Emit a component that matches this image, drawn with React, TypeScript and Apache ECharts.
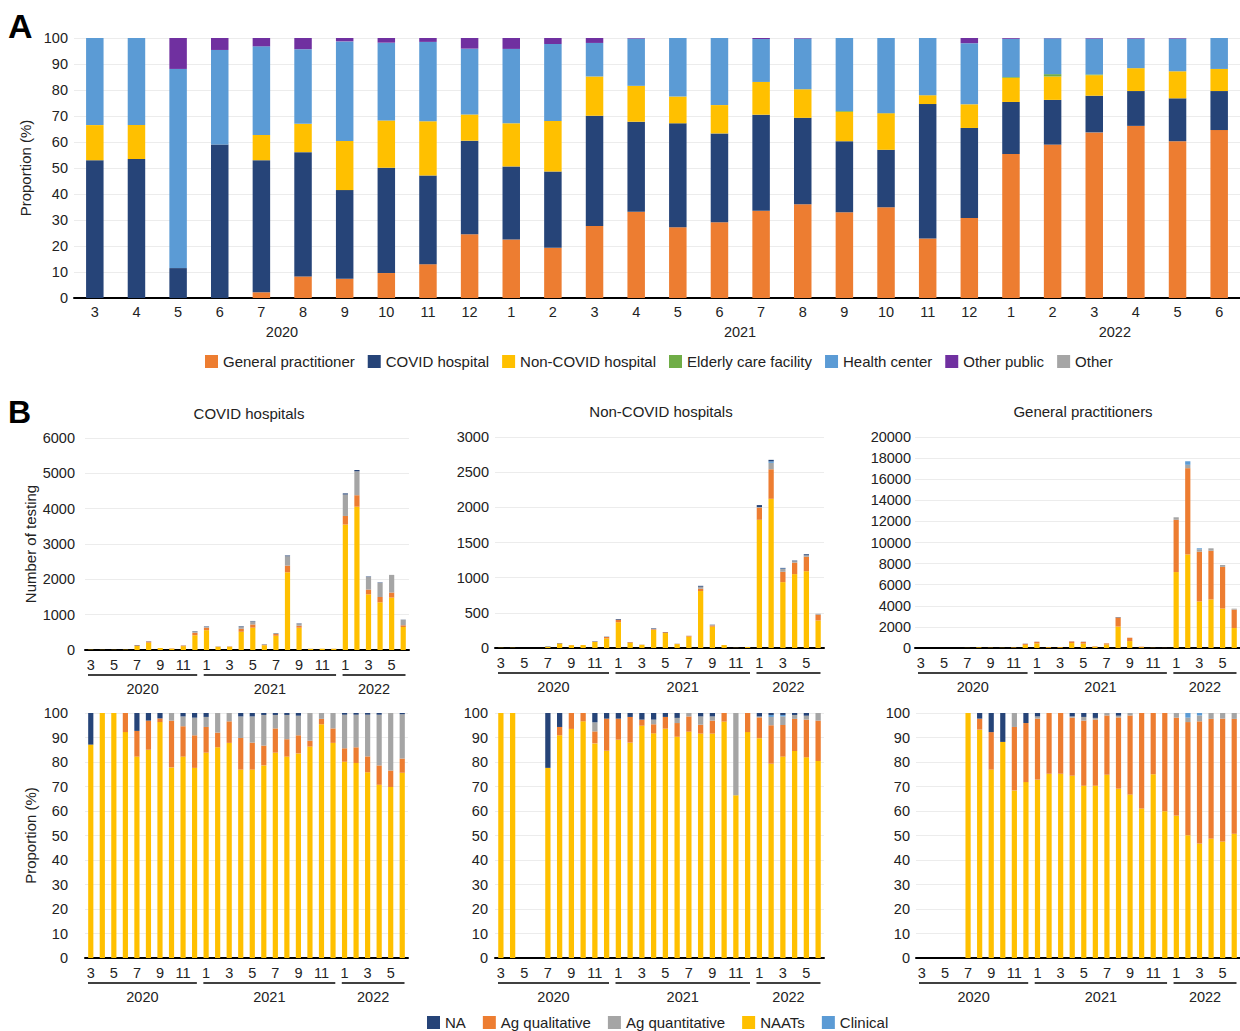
import React, { useEffect, useRef } from 'react';
import * as echarts from 'echarts';

// ---------- categories ----------
const months = ['3','4','5','6','7','8','9','10','11','12','1','2','3','4','5','6','7','8','9','10','11','12','1','2','3','4','5','6'];
const yearLabels = ['2020', '2021', '2022'];
const yearStart = [0, 10, 22];
const yearEnd = [9, 21, 27];

// ---------- Panel A: proportion of testing by facility (%) ----------
const gpA = [0,0,0,0,2.2,8.3,7.4,9.6,13,24.5,22.5,19.3,27.7,33.2,27.2,29.1,33.6,36.1,33,34.9,22.9,30.8,55.4,59,63.7,66.2,60.3,64.6];
const covidA = [53,53.5,11.5,59,50.8,47.8,34.1,40.5,34.1,36,28.1,29.4,42.4,34.6,40,34.2,36.9,33.2,27.3,22.1,51.7,34.6,20,17.2,14.1,13.4,16.5,15];
const nonCovidA = [13.5,13,0,0,9.7,10.9,18.9,18.2,20.9,10.1,16.6,19.4,15.1,13.8,10.3,10.9,12.6,11,11.3,14.1,3.4,9.1,9.3,9,7.9,8.8,10.4,8.5];
const elderlyA = [0,0,0,0,0,0,0,0,0,0,0,0,0,0,0,0,0,0,0.3,0,0,0,0.3,0.9,0.3,0,0,0];
const healthA = [33.5,33.5,76.6,36.4,34.1,28.7,38.3,29.9,30.5,25.3,28.6,29.6,12.9,18.2,22.5,25.8,16.5,19.5,28.1,28.9,22,23.5,14.7,13.8,13.8,11.4,12.6,11.9];
const otherPublicA = [0,0,11.9,4.6,3.2,4.3,1.3,1.8,1.5,4.1,4.2,2.3,1.9,0.2,0,0,0.4,0.2,0,0,0,2,0.3,0.1,0.2,0.2,0.2,0];
const otherA = [0,0,0,0,0,0,0,0,0,0,0,0,0,0,0,0,0,0,0,0,0,0,0,0,0,0,0,0];

// ---------- Panel B: totals (number of testing) ----------
const totalCovidHosp = [10,5,5,10,140,245,57,47,132,540,670,104,104,670,822,170,482,2675,756,38,38,38,4432,5094,2079,1909,2126,860];
const totalNonCovidHosp = [3,3,0,0,24,71,43,43,99,160,411,85,47,279,227,61,175,884,331,43,3,15,2032,2675,1139,1243,1333,487];
const totalGP = [0,0,0,0,10,60,30,20,60,410,600,95,95,630,600,160,440,2940,980,126,20,10,12390,17700,9450,9450,7870,3730];

// ---------- Panel B: shares by test type (%) ----------
// COVID hospitals
const naatCH = [87.1,100,100,92.2,82.2,85,96.3,77.8,82.2,77.6,83.8,86,87.8,76.9,76.9,78.6,83.8,82.2,83.5,86.3,95.4,87.8,80.1,79.6,75.8,70.7,69.8,75.6];
const agQlCH = [0,0,0,7.8,10.5,11.9,1.5,19.1,12.4,13.3,10.5,6,8.8,12.9,11,8.1,9.9,7.1,7.4,2.4,2.2,5.9,5.5,6.4,6.5,7.9,6.7,5.8];
const agQnCH = [0,0,0,0,0,0,0,3.1,4,7.2,4.1,8,3.4,8.8,10.7,12.5,5.5,9.9,8,11.3,2.4,6.3,13.7,13.3,17,20.7,23.5,18.1];
const clinCH = [0,0,0,0,0,0,0,0,0,0,0,0,0,0,0,0,0,0,0,0,0,0,0,0,0,0,0,0];
const naCH = [12.9,0,0,0,7.3,3.1,2.2,0,1.4,1.9,1.6,0,0,1.4,1.4,0.8,0.8,0.8,1.1,0,0,0,0.7,0.7,0.7,0.7,0,0.5];
// Non-COVID hospitals
const naatNH = [100,100,0,0,77.6,90.9,93.5,96.6,87.6,84.6,89.1,87.9,94.8,91.7,93.6,90.3,92.4,91.6,91.6,96.5,66.4,92.2,89.7,79.3,82.2,84.5,81.9,80.4];
const agQlNH = [0,0,0,0,0,3.4,6.5,3.4,4.9,13.1,8.6,10.5,2.5,3.7,4.8,5.6,6.2,3.6,5.3,3.5,0,7.8,8.5,15.7,12.9,13.1,15.4,16.5];
const agQnNH = [0,0,0,0,0,0,0,0,3.7,0,0,0,0,1.9,0,2.1,1.4,3.4,1.7,0,33.6,0,0.4,3.4,3.5,1.6,1.6,3.1];
const clinNH = [0,0,0,0,0,0,0,0,0,0,0,0,0,0,0,0,0,0,0,0,0,0,0,0.8,0.6,0,0,0];
const naNH = [0,0,0,0,22.4,5.7,0,0,3.8,2.3,2.3,1.6,2.7,2.7,1.6,2,0,1.4,1.4,0,0,0,1.4,0.8,0.8,0.8,1.1,0];
// General practitioners
const naatGP = [0,0,0,0,100,93.2,76.9,88.2,68.4,71.8,72.8,75.2,75.2,74.4,70.3,70.3,74.8,69.1,66.7,61,75,59.9,58.1,50.1,46.7,48.7,47.5,50.7];
const agQlGP = [0,0,0,0,0,4.5,15.3,0,25.9,24.1,24.9,24.8,24.8,23.7,26.6,27,24.2,29.1,32.3,39,25,40.1,40,46.2,49.9,48.9,50.2,46.9];
const agQnGP = [0,0,0,0,0,0,0,0,5.7,0,0.9,0,0,0.5,1.5,0.7,1,0.7,1,0,0,0,1.9,1.8,2.4,2.4,2.3,2.4];
const clinGP = [0,0,0,0,0,0,0,0,0,0,0,0,0,0,0,0,0,0,0,0,0,0,0,1.9,1,0,0,0];
const naGP = [0,0,0,0,0,2.3,7.8,11.8,0,4.1,1.4,0,0,1.4,1.6,2,0,1.1,0,0,0,0,0,0,0,0,0,0];

const FONT = 'Liberation Sans, Arial, Helvetica, sans-serif';
const TXT = '#222222';

const COL = {
  gp: '#ED7D31', covid: '#264478', non: '#FFC000', elder: '#70AD47', hc: '#5B9BD5', op: '#7030A0', other: '#A5A5A5',
};

const namesA = ['General practitioner', 'COVID hospital', 'Non-COVID hospital', 'Elderly care facility', 'Health center', 'Other public', 'Other'];
const namesB = ['NA', 'Ag qualitative', 'Ag quantitative', 'NAATs', 'Clinical'];

export default function App() {
  const ref = useRef<HTMLDivElement>(null);

  useEffect(() => {
    if (!ref.current) return;
    const chart = echarts.init(ref.current, undefined, { renderer: 'svg' });

    const cats = months.map((m, i) => `${i}-${m}`);

    const grids = [
      { left: 74, top: 38, width: 1179, height: 260 },
      { left: 85, top: 438, width: 324, height: 212 },
      { left: 495, top: 437, width: 329, height: 211 },
      { left: 915, top: 437, width: 325, height: 211 },
      { left: 85, top: 713, width: 323, height: 245 },
      { left: 495, top: 713, width: 329, height: 245 },
      { left: 916, top: 713, width: 325, height: 245 },
    ];

    const yCfg = [
      { max: 100, interval: 10, margin: 6, name: 'Proportion (%)', gap: 36 },
      { max: 6000, interval: 1000, margin: 10, name: 'Number of testing', gap: 47 },
      { max: 3000, interval: 500, margin: 6, name: '', gap: 0 },
      { max: 20000, interval: 2000, margin: 4, name: '', gap: 0 },
      { max: 100, interval: 10, margin: 17, name: 'Proportion (%)', gap: 47 },
      { max: 100, interval: 10, margin: 7, name: '', gap: 0 },
      { max: 100, interval: 10, margin: 6, name: '', gap: 0 },
    ];

    const xAxis = grids.map((_, i) => ({
      type: 'category',
      gridIndex: i,
      data: cats,
      axisLine: { lineStyle: { color: '#000', width: 2 } },
      axisTick: { show: false },
      axisLabel: {
        interval: i === 0 ? 0 : 1,
        formatter: (_v: string, idx: number) => months[idx],
        fontSize: 14.5,
        color: TXT,
        fontFamily: FONT,
        margin: i === 0 ? 6 : 7,
      },
      splitLine: { show: false },
    }));

    const yAxis = yCfg.map((c, i) => ({
      type: 'value',
      gridIndex: i,
      min: 0,
      max: c.max,
      interval: c.interval,
      name: c.name,
      nameLocation: 'middle',
      nameGap: c.gap,
      nameTextStyle: { fontSize: 15, color: TXT, fontFamily: FONT },
      axisLine: { show: false },
      axisTick: { show: false },
      axisLabel: {
        fontSize: 14.5, color: TXT, fontFamily: FONT, margin: c.margin,
        formatter: (v: number) => String(v),
      },
      splitLine: { lineStyle: { color: '#ececec', width: 1 } },
    }));

    const series: any[] = [];

    const aData = [gpA, covidA, nonCovidA, elderlyA, healthA, otherPublicA, otherA];
    const aCols = [COL.gp, COL.covid, COL.non, COL.elder, COL.hc, COL.op, COL.other];
    aData.forEach((d, k) => {
      series.push({
        type: 'bar', name: namesA[k], xAxisIndex: 0, yAxisIndex: 0, stack: 'A',
        data: d, barWidth: '42%', itemStyle: { color: aCols[k] },
      });
    });

    // B stacking order bottom -> top: NAATs, Ag qualitative, Ag quantitative, Clinical, NA
    const bOrder = ['NAATs', 'Ag qualitative', 'Ag quantitative', 'Clinical', 'NA'];
    const bCols: Record<string, string> = {
      NAATs: COL.non, 'Ag qualitative': COL.gp, 'Ag quantitative': COL.other, Clinical: COL.hc, NA: COL.covid,
    };
    const shares = [
      [naatCH, agQlCH, agQnCH, clinCH, naCH],
      [naatNH, agQlNH, agQnNH, clinNH, naNH],
      [naatGP, agQlGP, agQnGP, clinGP, naGP],
    ];
    const totals = [totalCovidHosp, totalNonCovidHosp, totalGP];

    for (let p = 0; p < 3; p++) {
      bOrder.forEach((nm, k) => {
        series.push({
          type: 'bar', name: nm, xAxisIndex: 1 + p, yAxisIndex: 1 + p, stack: 'cnt' + p,
          data: totals[p].map((t, i) => Math.round((t * shares[p][k][i]) / 10) / 10),
          barWidth: '45%', itemStyle: { color: bCols[nm] },
        });
        series.push({
          type: 'bar', name: nm, xAxisIndex: 4 + p, yAxisIndex: 4 + p, stack: 'pct' + p,
          data: shares[p][k], barWidth: '45%', itemStyle: { color: bCols[nm] },
        });
      });
    }

    const yearData = yearLabels.map((_, i) => [yearStart[i], yearEnd[i], 0]);
    for (let g = 0; g < 7; g++) {
      const withLine = g > 0;
      series.push({
        type: 'custom',
        name: 'years' + g,
        xAxisIndex: g,
        yAxisIndex: g,
        silent: true,
        z: 10,
        encode: { x: [0, 1], y: 2 },
        data: yearData,
        renderItem: (params: any, api: any) => {
          const s = api.value(0);
          const e = api.value(1);
          const band = api.size([1, 0])[0];
          const x1 = api.coord([s, 0])[0] - band / 2 + 3;
          const x2 = api.coord([e, 0])[0] + band / 2 - 3.5;
          const cs = params.coordSys;
          const yb = cs.y + cs.height;
          const children: any[] = [];
          if (withLine) {
            children.push({
              type: 'line',
              shape: { x1, y1: yb + 25, x2, y2: yb + 25 },
              style: { stroke: '#000', lineWidth: 1.6 },
            });
          }
          children.push({
            type: 'text',
            style: {
              text: yearLabels[params.dataIndex],
              x: (x1 + x2) / 2,
              y: withLine ? yb + 38.5 : yb + 34,
              align: 'center',
              verticalAlign: 'middle',
              fontSize: 14.5,
              fontFamily: FONT,
              fill: TXT,
            },
          });
          return { type: 'group', children };
        },
      });
    }

    const legendCommon = {
      icon: 'rect',
      itemWidth: 13,
      itemHeight: 13,
      padding: 0,
      selectedMode: false,
      textStyle: { fontSize: 15, color: TXT, fontFamily: FONT },
    };

    const option: any = {
      animation: false,
      textStyle: { fontFamily: FONT },
      grid: grids,
      xAxis,
      yAxis,
      legend: [
        { ...legendCommon, data: namesA, left: 205, top: 354, itemGap: 13 },
        { ...legendCommon, data: namesB, left: 427, top: 1015, itemGap: 17 },
      ],
      graphic: [
        { type: 'text', x: 8, y: 26, style: { text: 'A', fontSize: 34, fontWeight: 'bold', fontFamily: FONT, fill: '#000', verticalAlign: 'middle' } },
        { type: 'text', x: 8, y: 412, style: { text: 'B', fontSize: 32, fontWeight: 'bold', fontFamily: FONT, fill: '#000', verticalAlign: 'middle' } },
        { type: 'text', x: 249, y: 413, style: { text: 'COVID hospitals', fontSize: 15, fontFamily: FONT, fill: TXT, align: 'center', verticalAlign: 'middle' } },
        { type: 'text', x: 661, y: 411, style: { text: 'Non-COVID hospitals', fontSize: 15, fontFamily: FONT, fill: TXT, align: 'center', verticalAlign: 'middle' } },
        { type: 'text', x: 1083, y: 411, style: { text: 'General practitioners', fontSize: 15, fontFamily: FONT, fill: TXT, align: 'center', verticalAlign: 'middle' } },
      ],
      series,
    };

    chart.setOption(option);
    return () => chart.dispose();
  }, []);

  return (
    <div
      ref={ref}
      style={{ position: 'absolute', left: 0, top: 0, width: 1240, height: 1031, background: '#fff' }}
    />
  );
}
